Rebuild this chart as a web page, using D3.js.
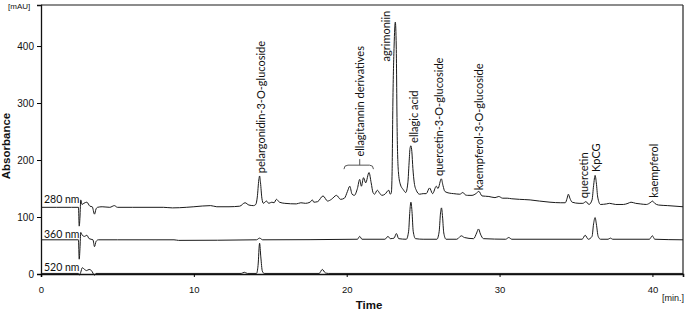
<!DOCTYPE html>
<html>
<head>
<meta charset="utf-8">
<script src="https://cdn.jsdelivr.net/npm/d3@7"></script>
<style>
  body { margin: 0; background: #fff; }
  svg text { fill: #111; }
</style>
</head>
<body>
<svg id="vis"></svg>
<script>
const WIDTH = 685;
const HEIGHT = 310;
const margin = {top: 5, right: 2, bottom: 36, left: 41};

// chromatogram traces, [time (min), absorbance (mAU)]
const trace280 = [
    [0, 117], [1, 117], [2, 117], [2.45, 117], [2.5, 84], [2.55, 100], [2.6, 130], [2.68, 122],
    [2.8, 124], [3.0, 126], [3.2, 119], [3.35, 118], [3.5, 105], [3.6, 114], [3.7, 117], [4.0, 118],
    [4.5, 117], [4.8, 120], [5.0, 117], [6, 117], [7, 117], [8, 117], [8.6, 116], [9.5, 117],
    [10, 118], [11.1, 120], [11.5, 118], [12.3, 118], [13.0, 119], [13.35, 125], [13.6, 121],
    [13.9, 120], [14.05, 122], [14.15, 135], [14.25, 165], [14.3, 172], [14.36, 160], [14.45, 133],
    [14.55, 124], [14.75, 128], [14.9, 124], [15.1, 126], [15.25, 125], [15.4, 131], [15.6, 126],
    [15.95, 124], [16.7, 123], [17.0, 125], [17.3, 124], [17.6, 126], [17.75, 130], [17.85, 126],
    [18.1, 127], [18.45, 137], [18.75, 128], [19.0, 131], [19.33, 138], [19.6, 131], [19.85, 133],
    [20.05, 145], [20.2, 154], [20.35, 140], [20.5, 138], [20.7, 150], [20.85, 166], [20.96, 154],
    [21.1, 169], [21.24, 160], [21.46, 178], [21.6, 160], [21.72, 143], [21.82, 140], [22.0, 147],
    [22.15, 142], [22.3, 138], [22.5, 140], [22.75, 147], [22.85, 140], [22.92, 143], [22.97, 180],
    [23.02, 300], [23.1, 400], [23.18, 442], [23.24, 400], [23.3, 250], [23.38, 180], [23.5, 158],
    [23.7, 148], [23.86, 143], [24.0, 160], [24.08, 195], [24.14, 220], [24.2, 225], [24.26, 215],
    [24.33, 185], [24.42, 160], [24.55, 147], [24.77, 140], [25.0, 141], [25.2, 141], [25.42, 151],
    [25.62, 141], [25.86, 154], [25.97, 150], [26.19, 167], [26.3, 155], [26.42, 145], [26.7, 142],
    [27.0, 141], [27.4, 140], [27.6, 143], [27.75, 139], [27.9, 138], [28.2, 138], [28.45, 141],
    [28.65, 145], [28.85, 137], [29.3, 136], [29.7, 134], [29.95, 136], [30.2, 133], [30.5, 133],
    [30.8, 132], [31.3, 131], [32.0, 130], [32.6, 128], [33.3, 126], [34.0, 125], [34.3, 125],
    [34.42, 133], [34.5, 140], [34.6, 133], [34.75, 126], [35.2, 124], [35.45, 124], [35.65, 127],
    [35.85, 122], [36.05, 130], [36.15, 155], [36.25, 173], [36.33, 160], [36.42, 135], [36.6, 122],
    [37.0, 123], [37.2, 124], [37.6, 122], [38.1, 122], [38.4, 124], [38.6, 126], [38.9, 124],
    [39.2, 123], [39.6, 122], [39.9, 126], [40.0, 128], [40.15, 124], [40.4, 121], [41, 120], [42, 118]
];

const trace360 = [
    [0, 60], [2.45, 60], [2.5, 26], [2.55, 45], [2.6, 73], [2.7, 68], [2.85, 66], [3.0, 68],
    [3.15, 62], [3.4, 60], [3.5, 48], [3.6, 57], [3.75, 60], [5, 60], [8.7, 60], [9, 59],
    [14.1, 60], [14.3, 63], [14.5, 60], [20.7, 61], [20.85, 66], [21.0, 61], [22.5, 61],
    [22.7, 66], [22.85, 62], [23.1, 63], [23.25, 71], [23.4, 62], [23.9, 61], [24.05, 75],
    [24.13, 110], [24.2, 126], [24.27, 110], [24.35, 75], [24.5, 62], [25, 61], [25.9, 61],
    [26.05, 75], [26.13, 105], [26.2, 116], [26.27, 100], [26.35, 72], [26.5, 61], [27.2, 61],
    [27.5, 67], [27.7, 64], [28.3, 62], [28.5, 72], [28.62, 79], [28.75, 70], [28.95, 62],
    [30.4, 61], [30.6, 64], [30.8, 61], [35.4, 61], [35.6, 68], [35.8, 61], [36.05, 66],
    [36.15, 88], [36.25, 99], [36.33, 88], [36.45, 66], [36.6, 61], [37.1, 61], [37.25, 63],
    [37.4, 61], [39.8, 61], [40.0, 67], [40.15, 61], [42, 60]
];

const trace520 = [
    [0, 1], [2.45, 1], [2.5, -2], [2.6, 3], [2.7, 11], [2.85, 8], [2.98, 6], [3.15, 8], [3.3, 6],
    [3.5, -2], [3.6, 1], [8.7, 1], [13.1, 1], [13.3, 3], [13.5, 1], [14.1, 1], [14.2, 15],
    [14.3, 54], [14.38, 30], [14.48, 5], [14.6, 1], [18.2, 1], [18.4, 8], [18.6, 2], [18.8, 1], [42, 1]
];

const traceNames = ["280 nm", "360 nm", "520 nm"];
const traceLabelLevels = [124, 64, 6];   // mAU at the label baseline

// peak annotations: name, retention time, mAU where the text starts
const peakNames = ["pelargonidin-3-O-glucoside", "ellagitannin derivatives", "agrimoniin",
    "ellagic acid", "quercetin-3-O-glucoside", "kaempferol-3-O-glucoside", "quercetin", "KpCG", "kaempferol"];
const peakTimes = [14.38, 20.85, 22.6, 24.4, 26.05, 28.65, 35.5, 36.35, 40.1];
const peakLabelLevels = [177, 206, 373, 230, 172, 147, 133, 179, 134];
const bracketRange = [19.82, 21.75];   // ellagitannin group

const xTicks = [0, 10, 20, 30, 40];
const yTicks = [0, 100, 200, 300, 400];

const svg = d3.select("#vis")
    .attr("width", WIDTH)
    .attr("height", HEIGHT)
    .style("font-family", "'Liberation Sans', Arial, sans-serif");

const x = d3.scaleLinear().domain([0, 42]).range([margin.left, WIDTH - margin.right]);
const y = d3.scaleLinear().domain([0, 472]).range([HEIGHT - margin.bottom, margin.top]);

// frame
svg.append("line")
    .attr("x1", x(0)).attr("x2", x(42)).attr("y1", y(472)).attr("y2", y(472))
    .attr("stroke", "#666").attr("stroke-width", 1.3);
svg.append("line")
    .attr("x1", x(42)).attr("x2", x(42)).attr("y1", y(472)).attr("y2", y(0))
    .attr("stroke", "#333").attr("stroke-width", 1.3);

// axes
const yAxis = svg.append("g")
    .attr("transform", `translate(${margin.left},0)`)
    .call(d3.axisLeft(y).tickValues(yTicks).tickSize(4).tickPadding(3));
yAxis.select(".domain").attr("stroke", "#111").attr("stroke-width", 1.3);
yAxis.selectAll("text").style("font-size", "10px");

const xAxis = svg.append("g")
    .attr("transform", `translate(0,${y(0)})`)
    .call(d3.axisBottom(x).tickValues(xTicks).tickSize(3).tickPadding(9));
xAxis.select(".domain").attr("stroke", "#111").attr("stroke-width", 1.6);
xAxis.selectAll("text").style("font-size", "9.5px");

svg.append("text")
    .attr("x", 8).attr("y", 9)
    .style("font-size", "8px")
    .text("[mAU]");
svg.append("text")
    .attr("x", 684).attr("y", 301)
    .attr("text-anchor", "end")
    .style("font-size", "9px")
    .text("[min.]");
svg.append("text")
    .attr("x", (x(0) + x(42)) / 2 + 7).attr("y", 309)
    .attr("text-anchor", "middle")
    .style("font-size", "11.5px").style("font-weight", "bold")
    .text("Time");
svg.append("text")
    .attr("transform", "translate(10,146) rotate(-90)")
    .attr("text-anchor", "middle")
    .style("font-size", "11.5px").style("font-weight", "bold")
    .text("Absorbance");

// traces
const line = d3.line()
    .x(d => x(d[0]))
    .y(d => y(d[1]))
    .curve(d3.curveMonotoneX);

[trace280, trace360, trace520].forEach(t => {
    svg.append("path")
        .datum(t)
        .attr("fill", "none")
        .attr("stroke", "#1a1a1a")
        .attr("stroke-width", 1)
        .attr("d", line);
});

const labelFont = "Lato, 'Open Sans', sans-serif";

svg.selectAll(".traceLabel").data(traceNames).join("text")
    .attr("class", "traceLabel")
    .attr("x", x(0) + 3)
    .attr("y", (d, i) => y(traceLabelLevels[i]))
    .style("font-family", labelFont)
    .style("font-size", "10.5px")
    .text(d => d);

svg.selectAll(".peakLabel").data(peakNames).join("text")
    .attr("class", "peakLabel")
    .attr("transform", (d, i) => `translate(${x(peakTimes[i])},${y(peakLabelLevels[i])}) rotate(-90)`)
    .attr("dy", "0.35em")
    .style("font-family", labelFont)
    .style("font-size", "11px")
    .text(d => d);

// bracket over the ellagitannin group
const bx0 = x(bracketRange[0]), bx1 = x(bracketRange[1]), by = y(191);
svg.append("path")
    .attr("d", `M${bx0},${by + 4} Q${bx0},${by} ${bx0 + 4},${by} H${bx1 - 4} Q${bx1},${by} ${bx1},${by + 4}`
        + ` M${x(peakTimes[1])},${by} V${by - 6}`)
    .attr("fill", "none")
    .attr("stroke", "#555")
    .attr("stroke-width", 1);
</script>
</body>
</html>
